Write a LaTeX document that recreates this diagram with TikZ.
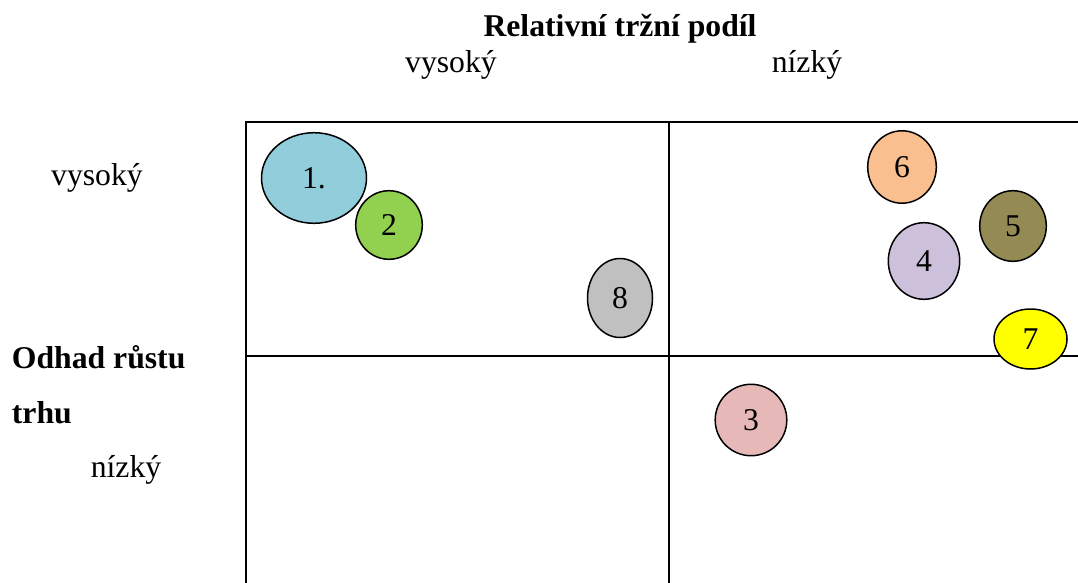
\documentclass[tikz,border=0pt]{standalone}
\usepackage{fontspec}
\setmainfont{Liberation Serif}
\usetikzlibrary{shapes.geometric}
\definecolor{cBlue}{HTML}{92CDDC}
\definecolor{cGreen}{HTML}{92D050}
\definecolor{cGray}{HTML}{C0C0C0}
\definecolor{cOrange}{HTML}{FABF8F}
\definecolor{cOlive}{HTML}{948A54}
\definecolor{cLav}{HTML}{CCC0DA}
\definecolor{cYellow}{HTML}{FFFF00}
\definecolor{cPink}{HTML}{E6B9B8}
\tikzset{
  lbl/.style={inner sep=0pt, font=\fontsize{31.7}{38}\selectfont},
  blbl/.style={inner sep=0pt, font=\fontsize{31.7}{38}\selectfont\bfseries},
  grid line/.style={line width=2pt, black},
  bubble/.style={ellipse, draw=black, line width=1.5pt, inner sep=0pt,
    font=\fontsize{31.7}{38}\selectfont},
}
\begin{document}
\begin{tikzpicture}[x=1pt,y=-1pt]
\useasboundingbox (0,0) rectangle (1078,583);
% labels
\node[blbl, anchor=base] (title) at (620,37) {Relativní tržní podíl};
\node[lbl, anchor=base] (hx) at (451,73) {vysoký};
\node[lbl, anchor=base] (lx) at (807,73) {nízký};
\node[lbl, anchor=base] (hy) at (97,185) {vysoký};
\node[blbl, anchor=base west] (ytitle1) at (11.7,368) {Odhad růstu};
\node[blbl, anchor=base west] (ytitle2) at (11.7,423) {trhu};
\node[lbl, anchor=base] (ly) at (126,477) {nízký};
% grid
\begin{scope}
\clip (0,0) rectangle (1078,583);
\coordinate (tl) at (246,122);
\coordinate (br) at (1100,620);
\coordinate (vt) at (668.5,122);
\coordinate (vb) at (668.5,620);
\coordinate (hl) at (246,355.7);
\coordinate (hr) at (1100,355.7);
\draw[grid line] (tl) rectangle (br);
\draw[grid line] (vt) -- (vb);
\draw[grid line] (hl) -- (hr);
\end{scope}
% bubbles
\node[bubble, fill=cBlue, minimum width=105pt, minimum height=90.6pt] (b1) at (314,178) {1.};
\node[bubble, fill=cGreen, minimum width=66.6pt, minimum height=68.6pt] (b2) at (389,225) {2};
\node[bubble, fill=cGray, minimum width=65pt, minimum height=79pt] (b8) at (620,298) {8};
\node[bubble, fill=cOrange, minimum width=68.6pt, minimum height=72.4pt] (b6) at (902,167) {6};
\node[bubble, fill=cOlive, minimum width=66.6pt, minimum height=70.6pt] (b5) at (1013,226) {5};
\node[bubble, fill=cLav, minimum width=71.4pt, minimum height=76.6pt] (b4) at (924,261) {4};
\node[bubble, fill=cYellow, minimum width=73pt, minimum height=60pt] (b7) at (1030.5,339) {7};
\node[bubble, fill=cPink, minimum width=71.6pt, minimum height=71.4pt] (b3) at (751,420) {3};
\end{tikzpicture}
\end{document}
